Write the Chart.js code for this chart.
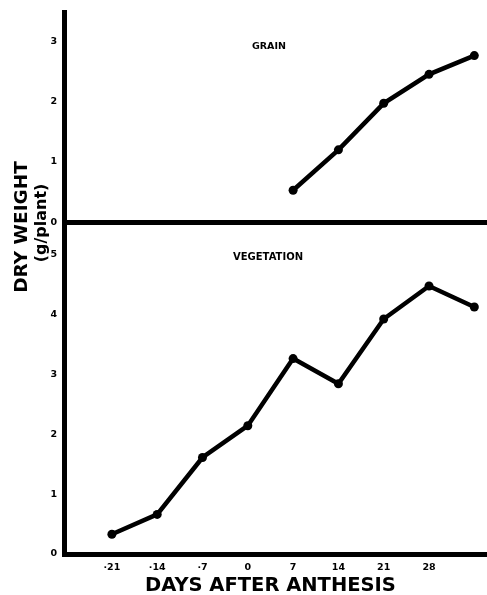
<!DOCTYPE html>
<html>
<head>
<meta charset="utf-8">
<script src="https://cdn.jsdelivr.net/npm/chart.js@4.4.1/dist/chart.umd.min.js"></script>
<style>
  body { margin: 0; background: #fff; overflow: hidden; }
  #wrap { position: relative; width: 487px; height: 595px; overflow: hidden; font-family: "DejaVu Sans", sans-serif; }
  canvas { position: absolute; left: 0; }
  .lbl { position: absolute; font-weight: bold; color: #000; white-space: nowrap; }
  .rot { transform: translate(-50%, -50%) rotate(-90deg); }
</style>
</head>
<body>
<div id="wrap">
  <canvas id="chart_grain" style="top:0px" width="495" height="235"></canvas>
  <canvas id="chart_veg" style="top:211px" width="495" height="384"></canvas>
  <div class="lbl" style="left:252px;top:40px;font-size:9.5px">GRAIN</div>
  <div class="lbl" style="left:233px;top:251px;font-size:10px">VEGETATION</div>
  <div class="lbl rot" style="left:20px;top:227px;font-size:18.5px">DRY WEIGHT</div>
  <div class="lbl rot" style="left:40px;top:223px;font-size:16px">(g/plant)</div>
  <div class="lbl" style="left:145px;top:573px;font-size:19.5px">DAYS AFTER ANTHESIS</div>
</div>
<script>
// days after anthesis
const grainDays = [7, 14, 21, 28, 35]
const grainWeight = [0.53, 1.2, 1.97, 2.45, 2.76]

const vegDays = [-21, -14, -7, 0, 7, 14, 21, 28, 35]
const vegWeight = [0.33, 0.66, 1.61, 2.14, 3.26, 2.84, 3.92, 4.47, 4.12]

const xTickValues = [-21, -14, -7, 0, 7, 14, 21, 28]
const xTickLabels = ['·21', '·14', '·7', '0', '7', '14', '21', '28']

const tickFont = { family: 'DejaVu Sans', size: 9.5, weight: 'bold' }

const makeData = (days, weights) => days.map((d, i) => ({ x: d, y: weights[i] }))

const lineDataset = (days, weights) => ({
  data: makeData(days, weights),
  borderColor: '#000',
  backgroundColor: '#000',
  borderWidth: 4.5,
  pointRadius: 4.5,
  pointBackgroundColor: '#000',
  pointBorderWidth: 0,
  tension: 0
})

const xScale = (showLabels, axisHeight) => ({
  type: 'linear',
  min: -28.4,
  max: 37.5,
  afterBuildTicks: (scale) => {
    scale.ticks = xTickValues.map(v => ({ value: v }))
  },
  afterFit: (scale) => { scale.height = axisHeight },
  grid: { display: false, drawTicks: false },
  border: { color: '#000', width: 5 },
  ticks: {
    display: showLabels,
    color: '#000',
    font: tickFont,
    padding: 8,
    autoSkip: false,
    maxRotation: 0,
    callback: (v) => xTickLabels[xTickValues.indexOf(v)]
  }
})

const yScale = (max) => ({
  type: 'linear',
  min: 0,
  max: max,
  afterFit: (scale) => { scale.width = 64 },
  grid: { display: false, drawTicks: false },
  border: { color: '#000', width: 5 },
  ticks: {
    stepSize: 1,
    includeBounds: false,
    color: '#000',
    font: tickFont,
    padding: 7
  }
})

const baseOptions = (max, showLabels, axisHeight, padTop) => ({
  responsive: false,
  animation: false,
  layout: { padding: { top: padTop, left: 0, right: 0, bottom: 0 } },
  plugins: { legend: { display: false }, tooltip: { enabled: false } },
  scales: { x: xScale(showLabels, axisHeight), y: yScale(max) }
})

new Chart(document.getElementById('chart_grain'), {
  type: 'line',
  data: { datasets: [lineDataset(grainDays, grainWeight)] },
  options: baseOptions(3.47, false, 10, 12)
})

new Chart(document.getElementById('chart_veg'), {
  type: 'line',
  data: { datasets: [lineDataset(vegDays, vegWeight)] },
  options: baseOptions(5.51, true, 41, 3)
})
</script>
</body>
</html>
